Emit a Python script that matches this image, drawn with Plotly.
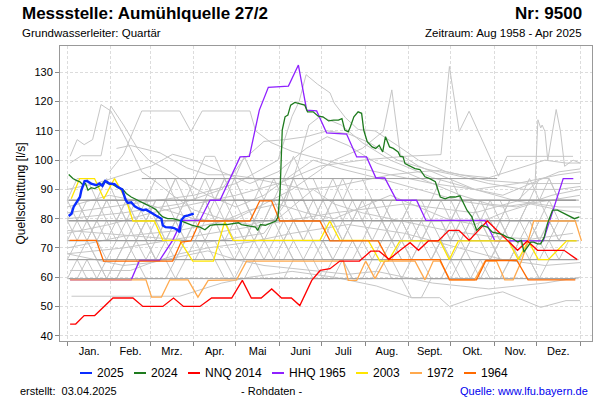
import plotly.graph_objects as go

# ---------------- axis data ----------------
MONTH_LABELS = ["Jan.", "Feb.", "Mrz.", "Apr.", "Mai", "Juni", "Juli", "Aug.", "Sept.", "Okt.", "Nov.", "Dez."]
MONTH_MID_DAYS = [15.5, 45, 74.5, 105, 135.5, 166, 196.5, 227.5, 258, 288.5, 319, 349.5]
MONTH_START_DAYS = [0, 31, 59, 90, 120, 151, 181, 212, 243, 273, 304, 334, 365]
Y_TICKS = [40, 50, 60, 70, 80, 90, 100, 110, 120, 130]

# ---------------- highlighted years ----------------
D2025_DAYS = [1, 3, 4.5, 7, 9, 10, 12.3, 14, 17, 20.6, 23, 25, 27, 30, 33.6, 36, 39, 41.5, 43, 45.5, 48, 51, 54, 56,
              58.5, 61, 63, 65, 67, 68, 70, 74, 76, 79, 80, 81, 83.4, 86, 87.5, 90]
D2025_VALUES = [80.9, 81.7, 84, 85.7, 87.4, 89.7, 92.8, 92.9, 92, 91.4, 92, 91.2, 92.9, 92, 91.8, 90.8, 90, 86.5, 85.4,
                85.6, 84.2, 83.4, 82.9, 83.1, 82.5, 81.7, 81.1, 80.6, 80, 77.7, 77.1, 77, 76.8, 76, 75.4, 79.4, 80.8,
                81.1, 81.4, 81.7]

D2024_DAYS = [1, 4, 6.4, 9, 11, 13, 14.7, 17, 19.4, 22, 24, 26.5, 29, 32.5, 36, 39.5, 42, 45.5, 49, 52.6, 56, 60, 63,
              65.6, 68, 71.5, 75, 80, 84.6, 89, 94.4, 98, 101.6, 106, 113.5, 118, 121.8, 124, 128, 131, 134, 135.5,
              137.5, 141, 145, 148.5, 150, 151.5, 153, 155, 157, 159, 162, 165, 169, 171, 175, 178.6, 182, 186, 189.5,
              193, 195.5, 197.5, 200, 201.5, 204, 207, 209.5, 211, 213.5, 217, 219.5, 222, 224.5, 226.5, 229.4, 232,
              235.5, 237, 239, 240.4, 244, 247.5, 251, 254.6, 258, 262, 265.5, 269, 272.5, 276, 279.5, 282, 284.5, 288,
              291.4, 295, 299, 302.6, 306, 309.6, 313, 317, 320.5, 323.3, 325, 327.5, 330, 332, 334.7, 337, 339.5,
              341.8, 345.4, 349, 353.6, 357, 361, 364.5]
D2024_VALUES = [95.1, 93.7, 93.1, 92.6, 91.6, 92, 89.7, 90.6, 90.3, 90.8, 91.4, 92.8, 92, 91.6, 90.6, 90, 88.6, 87.4,
                86.5, 85.7, 84.9, 84, 83.1, 81.7, 80.6, 80, 80, 79.4, 78.6, 77.7, 77.1, 76.2, 77.7, 78, 78, 78.3, 78.6,
                78, 77.7, 77.5, 77.1, 76, 78, 77.7, 78.5, 79.2, 80.6, 89.7, 110.3, 114.8, 115.4, 118.8, 119.7, 119.2,
                118.8, 116.5, 116.5, 115, 114.8, 113.4, 113.7, 113.7, 114.2, 110.3, 109.7, 111.4, 114.8, 116.5, 116,
                110.3, 106.3, 104.5, 104, 105.1, 102.8, 108, 104.5, 104, 102.8, 101.3, 101.1, 98.8, 97.9, 97.1, 96.8,
                94.3, 93.7, 92.6, 87.4, 86.8, 87.4, 87.4, 87.8, 85.1, 82.9, 80.6, 76, 77.7, 77.1, 75.4, 74.9, 74.6,
                73.7, 73.2, 72, 72.6, 68.6, 70.3, 72, 72, 71.4, 71.4, 73.7, 78.3, 82.9, 82.9, 81.7, 81.1, 80, 80.6]

NNQ2014_DAYS = [2, 6, 12, 19.5, 32.5, 46.7, 53.8, 68, 75.6, 82.7, 94.4, 102.7, 117, 124.6, 131, 138, 145.5, 152.5,
                159.5, 165.5, 174, 180, 187, 194, 208, 216, 222, 229, 237, 244, 250, 257, 264, 271.7, 278.8, 286, 299,
                306, 313, 320.5, 327.5, 334.7, 353.6, 363]
NNQ2014_VALUES = [44, 44, 46.9, 46.9, 52.9, 52.9, 50, 50, 52.9, 50, 50, 52.9, 52.9, 58.9, 52.9, 52.9, 56, 52.9, 52.9,
                  50.3, 58.9, 62.3, 62.9, 65.5, 65.5, 68.9, 68.9, 66.1, 69.2, 71.8, 69.2, 72.4, 72.4, 76, 76, 72.6, 79.2,
                  76, 72.6, 69.2, 72.4, 69.2, 69.2, 66]

HHQ1965_DAYS = [2, 45.5, 51.4, 65.6, 75, 81.7, 94.4, 101.6, 108.7, 115.8, 123, 129.6, 136.7, 143.1, 157.4, 164.5, 170.4,
                177.5, 184.6, 198.8, 206, 213, 219.7, 226, 234.4, 248.6, 255.3, 297.3, 304.4, 338.8, 353, 360.2]
HHQ1965_VALUES = [59.1, 59.1, 65.7, 65.7, 72.6, 79.4, 79.4, 86.3, 86.3, 93.7, 101.1, 101.3, 117.1, 124.9, 125.3, 132.5,
                  117.1, 116.8, 109.3, 108.9, 101.1, 101.1, 93.9, 93.9, 86.3, 86.3, 79.4, 79.4, 72.4, 72.4, 93.7, 93.7]

D2003_DAYS = [2.8, 8.8, 19.4, 26, 33.6, 42, 46.7, 62, 68, 80, 89.3, 104, 112, 118, 179.8, 186.9, 194, 214.2, 222.5,
              228.4, 236.8, 265.3, 271.9, 278.4, 314, 321, 328.2, 335.3, 342.4, 355.5, 362.6]
D2003_VALUES = [86.8, 93.7, 93.7, 86.8, 93.7, 86.3, 79.2, 79.2, 72.6, 72.6, 65.5, 65.5, 78.9, 72.6, 72.6, 79.2, 72.6,
                72.6, 65.5, 65.5, 72.4, 72.4, 66, 72.4, 72.4, 66, 72.4, 66, 66, 72.4, 72.4]

D1972_DAYS = [2, 56, 60, 67, 73, 86, 93, 100.3, 120.5, 127.6, 196.4, 200, 206, 212.4, 219, 226, 247.5, 254.6, 260.5,
              265.3, 272.4, 290, 297.3, 305.5, 311.4, 317.4, 323.3, 328, 332, 361.6, 366]
D1972_VALUES = [59.1, 59.1, 53.2, 53.2, 59.1, 59.1, 53.2, 58.9, 59.1, 65.5, 65.5, 58.9, 58.9, 65.5, 59.5, 65.5, 65.5,
                59.1, 65.5, 65.5, 59.1, 59.1, 65.5, 65.5, 59.1, 59.1, 65.5, 72.4, 79.2, 79.2, 72.4]

D1964_DAYS = [1.7, 20.6, 25.8, 75, 81, 88, 94.4, 130, 137, 145.4, 151.3, 179.8, 187, 221.3, 228.4, 265.3, 272, 291.3,
              298, 320, 328, 361.6]
D1964_VALUES = [72.6, 72.6, 65.5, 65.5, 72, 72.4, 79.2, 79.2, 86.1, 86.1, 79.2, 79.2, 72.4, 72.4, 66, 66, 59.1, 59.1,
                65.7, 65.7, 59.1, 59.1]

# ---------------- other years (grey), weekly readings ----------------
WEEK_DAYS = list(range(0, 365, 7))
GRAY_W1 = [72.5,72.5,79.3,72.5,72.5,72.5,79.3,79.3,72.5,66,66,72.5,72.5,79.3,86.3,79.3,79.3,72.5,72.5,72.5,79.3,86.3,86.3,79.3,72.5,72.5,72.5,66,66,72.5,72.5,72.5,79.3,72.5,72.5,66,66,66,72.5,72.5,79.3,72.5,72.5,72.5,66,66,72.5,72.5,79.3,79.3,72.5,72.5,72.5]
GRAY_W2 = [79.3,86.3,79.3,79.3,72.5,79.3,86.3,86.3,79.3,79.3,86.3,93.7,86.3,79.3,79.3,86.3,93.7,86.3,86.3,79.3,79.3,79.3,86.3,93.7,93.7,86.3,79.3,79.3,72.5,79.3,79.3,86.3,79.3,79.3,72.5,72.5,79.3,79.3,86.3,79.3,72.5,72.5,79.3,79.3,72.5,72.5,79.3,86.3,86.3,79.3,79.3,79.3,79.3]
GRAY_W3 = [66,66,72.5,66,59.5,66,66,72.5,72.5,66,66,59.5,66,72.5,72.5,66,66,66,72.5,79.3,72.5,66,66,72.5,66,66,59.5,59.5,66,66,72.5,66,66,59.5,59.5,66,66,66,72.5,66,59.5,59.5,66,66,72.5,72.5,66,66,59.5,66,66,66,66]
GRAY_W4 = [86.3,86.3,79.3,86.3,93.7,86.3,86.3,79.3,79.3,86.3,86.3,93.7,93.7,86.3,86.3,79.3,86.3,93.7,101.3,93.7,86.3,86.3,86.3,93.7,86.3,79.3,79.3,86.3,86.3,79.3,79.3,72.5,72.5,79.3,79.3,72.5,72.5,66,72.5,72.5,79.3,79.3,72.5,72.5,79.3,86.3,86.3,93.7,86.3,86.3,79.3,79.3,79.3]
GRAY_W5 = [59.5,59.5,66,66,59.5,59.5,66,72.5,66,66,72.5,79.3,72.5,72.5,79.3,79.3,72.5,66,66,72.5,72.5,79.3,72.5,66,66,59.5,59.5,66,66,59.5,59.5,59.5,66,66,59.5,53,53,59.5,59.5,66,66,59.5,59.5,66,72.5,72.5,66,66,72.5,72.5,66,66,66]
GRAY_W6 = [72.5,79.3,79.3,72.5,66,66,72.5,79.3,86.3,79.3,72.5,72.5,79.3,79.3,86.3,86.3,93.7,86.3,79.3,79.3,86.3,86.3,79.3,72.5,72.5,79.3,86.3,93.7,86.3,86.3,79.3,72.5,72.5,72.5,79.3,79.3,72.5,72.5,66,66,72.5,79.3,79.3,72.5,66,66,72.5,79.3,72.5,72.5,72.5,79.3,79.3]
GRAY_W7 = [79.3,72.5,72.5,66,66,72.5,72.5,66,66,72.5,79.3,79.3,86.3,79.3,72.5,72.5,72.5,79.3,79.3,72.5,66,66,72.5,79.3,79.3,86.3,86.3,79.3,79.3,72.5,66,66,72.5,72.5,66,66,72.5,79.3,79.3,72.5,72.5,66,66,59.5,59.5,66,66,72.5,72.5,66,66,72.5,72.5]
GRAY_W8 = [86.3,79.3,79.3,79.3,86.3,86.3,79.3,72.5,72.5,79.3,86.3,86.3,79.3,79.3,86.3,93.7,93.7,93.7,86.3,79.3,79.3,86.3,93.7,101.3,93.7,93.7,86.3,86.3,79.3,86.3,86.3,79.3,79.3,86.3,86.3,79.3,79.3,79.3,72.5,79.3,86.3,86.3,79.3,79.3,72.5,79.3,79.3,86.3,93.7,93.7,86.3,86.3,86.3]
GRAY_W9 = [66,72.5,72.5,79.3,79.3,72.5,72.5,72.5,79.3,79.3,72.5,66,66,66,72.5,72.5,66,59.5,59.5,66,72.5,72.5,72.5,66,66,72.5,72.5,79.3,72.5,72.5,66,66,66,72.5,72.5,79.3,79.3,72.5,72.5,66,66,72.5,72.5,72.5,79.3,72.5,72.5,66,66,72.5,79.3,79.3,79.3]
GRAY_W10 = [79.3,79.3,86.3,86.3,79.3,79.3,72.5,72.5,79.3,72.5,72.5,79.3,86.3,86.3,93.7,86.3,79.3,79.3,72.5,72.5,79.3,79.3,86.3,86.3,79.3,79.3,86.3,86.3,93.7,86.3,86.3,86.3,79.3,72.5,72.5,72.5,79.3,86.3,86.3,86.3,79.3,79.3,86.3,86.3,79.3,72.5,72.5,72.5,79.3,86.3,86.3,86.3,86.3]
GRAY_W11 = [59.5,66,66,59.5,59.5,59.5,66,66,59.5,59.5,59.5,66,72.5,72.5,66,66,59.5,59.5,66,66,59.5,59.5,59.5,66,66,66,72.5,66,66,59.5,59.5,66,66,66,72.5,66,66,59.5,59.5,59.5,66,66,59.5,59.5,59.5,66,66,66,59.5,59.5,59.5,59.5,59.5]
GRAY_W12 = [72.5,72.5,72.5,79.3,86.3,86.3,79.3,79.3,72.5,72.5,79.3,79.3,72.5,72.5,72.5,79.3,79.3,86.3,86.3,79.3,72.5,72.5,79.3,79.3,79.3,72.5,72.5,72.5,79.3,79.3,86.3,86.3,79.3,79.3,79.3,72.5,72.5,79.3,79.3,79.3,86.3,86.3,79.3,72.5,72.5,79.3,79.3,79.3,72.5,72.5,72.5,72.5,72.5]
GRAY_W13 = [86.3,93.7,93.7,86.3,86.3,79.3,79.3,86.3,86.3,93.7,93.7,86.3,86.3,93.7,101.3,101.3,93.7,93.7,86.3,86.3,93.7,93.7,86.3,86.3,86.3,79.3,79.3,86.3,86.3,93.7,93.7,86.3,86.3,79.3,79.3,86.3,86.3,86.3,93.7,93.7,86.3,86.3,86.3,79.3,79.3,86.3,86.3,86.3,86.3,93.7,86.3,86.3,86.3]
GRAY_W14 = [66,66,59.5,59.5,66,66,72.5,72.5,72.5,66,66,66,72.5,79.3,79.3,79.3,72.5,72.5,66,66,66,72.5,72.5,79.3,72.5,72.5,66,66,72.5,72.5,72.5,79.3,79.3,72.5,66,66,72.5,72.5,72.5,66,66,72.5,72.5,66,66,66,72.5,72.5,72.5,79.3,72.5,72.5,72.5]
GRAY_W15 = [79.3,79.3,72.5,72.5,79.3,79.3,86.3,79.3,79.3,86.3,86.3,79.3,79.3,79.3,86.3,86.3,86.3,79.3,72.5,79.3,86.3,93.7,93.7,86.3,86.3,79.3,79.3,72.5,72.5,79.3,86.3,86.3,86.3,79.3,79.3,86.3,86.3,79.3,79.3,72.5,72.5,79.3,79.3,86.3,86.3,79.3,79.3,72.5,72.5,79.3,79.3,79.3,79.3]
GRAY_WEEKLY = [GRAY_W1, GRAY_W2, GRAY_W3, GRAY_W4, GRAY_W5, GRAY_W6, GRAY_W7, GRAY_W8, GRAY_W9, GRAY_W10,
               GRAY_W11, GRAY_W12, GRAY_W13, GRAY_W14, GRAY_W15]

# years with constant readings all year (overlapping, appear darker)
GRAY_FLAT_DAYS = [1, 362]
GRAY_FLAT_LEVELS = [86.3, 86.3, 79.3, 79.3, 72.5, 72.5, 66, 59.5]
GRAY_FLAT93_DAYS = [53, 306]
GRAY_FLAT93_VALUES = [93.7, 93.7]

# continuously recorded grey years
GRAY_S1_DAYS = [2, 7, 12, 18, 24, 31, 42, 53, 62, 75, 90, 110, 130, 150, 165, 175, 190, 210, 240, 270, 300, 330, 360]
GRAY_S1_VALUES = [101.3, 107, 105.3, 107, 119, 116.8, 107, 96, 93, 88, 83, 80, 78, 80, 86, 90, 85, 82, 79, 76, 74, 73, 75]
GRAY_S2_DAYS = [2, 10, 24, 31, 40, 50, 58, 70, 85, 100, 120, 140, 160, 175, 195, 220, 250, 280, 310, 340, 365]
GRAY_S2_VALUES = [99, 101.5, 101.5, 118.5, 112, 104, 100, 97, 92, 88, 84, 88, 95, 100, 97, 94, 90, 86, 84, 86, 88]
GRAY_S3_DAYS = [30, 40, 47, 53, 80, 88, 96, 130, 134, 145, 160, 175, 200, 230, 260, 290, 320, 350, 365]
GRAY_S3_VALUES = [96, 102, 110, 116.8, 116.8, 109.8, 116.8, 116.8, 110, 106, 103, 101, 98, 95, 92, 90, 92, 95, 96]
GRAY_S4_DAYS = [35, 45, 66, 85, 100, 115, 130, 150, 170, 190, 210, 230, 250, 265, 280, 300, 320, 340, 355, 365]
GRAY_S4_VALUES = [104, 105, 102.5, 97.4, 95, 95, 94, 92, 90, 91, 93, 95, 96, 96.5, 95, 94, 97, 100, 99, 99]
GRAY_S5_DAYS = [0, 30, 60, 90, 120, 150, 160, 165, 170, 178, 187, 190, 198, 207, 219, 235, 250, 270, 300, 330, 365]
GRAY_S5_VALUES = [82, 84, 86, 88, 92, 100, 115, 120, 129.2, 126, 123, 119.5, 114.5, 110.5, 110, 105, 100, 96, 93, 92, 92]
GRAY_S6_DAYS = [0, 30, 60, 90, 120, 150, 180, 210, 240, 266, 272, 279, 286, 307, 313, 360]
GRAY_S6_VALUES = [75, 78, 82, 85, 88, 92, 98, 100, 101.3, 101.9, 132, 109.8, 116.7, 94.5, 101.3, 101.3]
GRAY_S7_DAYS = [0, 40, 80, 120, 160, 190, 210, 225, 231, 237, 250, 270, 290, 310, 330, 350, 365]
GRAY_S7_VALUES = [70, 74, 76, 80, 90, 100, 104, 109.9, 124, 101.9, 98, 94, 90, 88, 92, 96, 97]
GRAY_S8_DAYS = [0, 40, 90, 140, 190, 240, 290, 320, 333, 335, 337, 338, 340, 342, 348, 351, 354, 360, 365]
GRAY_S8_VALUES = [68, 70, 74, 78, 82, 85, 82, 86, 92, 113.8, 111, 112, 109.8, 100, 117.3, 110, 97.9, 100, 99]
GRAY_S9_DAYS = [3, 40, 80, 90, 110, 130, 160, 190, 220, 245, 265, 272, 290, 310, 337, 355, 365]
GRAY_S9_VALUES = [53.5, 53.5, 53.5, 55, 58, 60, 62, 60, 57, 53, 53, 50, 53, 55, 49.7, 52, 52]
GRAY_S10_DAYS = [2, 45, 60, 80, 100, 130, 160, 200, 240, 280, 310, 340, 365]
GRAY_S10_VALUES = [62.3, 62.3, 65, 68, 70, 72, 75, 78, 75, 70, 66, 64, 65]
GRAY_S11_DAYS = [0, 50, 100, 140, 155, 165, 172, 180, 195, 210, 230, 260, 290, 320, 350, 365]
GRAY_S11_VALUES = [76, 74, 72, 75, 85, 100, 112, 115, 112, 106, 100, 94, 90, 86, 84, 84]
GRAY_S12_DAYS = [0, 20, 40, 60, 75, 90, 110, 130, 150, 170, 185, 200, 220, 240, 260, 280, 300, 320, 345, 365]
GRAY_S12_VALUES = [90, 92, 95, 98, 102, 100, 96, 92, 96, 104, 108, 105, 99, 96, 92, 88, 85, 84, 88, 90]
GRAY_S13_DAYS = [0, 40, 80, 110, 125, 140, 155, 170, 185, 200, 215, 235, 255, 275, 300, 325, 350, 365]
GRAY_S13_VALUES = [80, 82, 85, 90, 100, 106.4, 107, 108, 110, 109, 106, 100, 97, 95, 92, 90, 90, 91]
GRAY_S14_DAYS = [0, 15, 30, 50, 70, 90, 110, 130, 150, 170, 190, 210, 230, 250, 270, 290, 310, 330, 350, 365]
GRAY_S14_VALUES = [84, 86, 88, 86, 83, 80, 79, 83, 85, 82, 80, 84, 88, 84, 80, 78, 82, 85, 83, 82]
GRAY_S15_DAYS = [0, 20, 40, 60, 80, 100, 120, 140, 160, 180, 200, 220, 240, 260, 280, 300, 320, 340, 365]
GRAY_S15_VALUES = [68, 66, 64, 65, 67, 69, 66, 64, 63, 62, 61, 62, 60, 58, 57, 56, 57, 58, 60]
GRAY_SMOOTH = [(GRAY_S1_DAYS, GRAY_S1_VALUES), (GRAY_S2_DAYS, GRAY_S2_VALUES), (GRAY_S3_DAYS, GRAY_S3_VALUES),
               (GRAY_S4_DAYS, GRAY_S4_VALUES), (GRAY_S5_DAYS, GRAY_S5_VALUES), (GRAY_S6_DAYS, GRAY_S6_VALUES),
               (GRAY_S7_DAYS, GRAY_S7_VALUES), (GRAY_S8_DAYS, GRAY_S8_VALUES), (GRAY_S9_DAYS, GRAY_S9_VALUES),
               (GRAY_S10_DAYS, GRAY_S10_VALUES), (GRAY_S11_DAYS, GRAY_S11_VALUES), (GRAY_S12_DAYS, GRAY_S12_VALUES),
               (GRAY_S13_DAYS, GRAY_S13_VALUES), (GRAY_S14_DAYS, GRAY_S14_VALUES), (GRAY_S15_DAYS, GRAY_S15_VALUES)]

# legend / highlighted series (drawing order bottom -> top)
SERIES = [
    ("HHQ 1965", HHQ1965_DAYS, HHQ1965_VALUES, "#8f20ff", 1.3),
    ("2003", D2003_DAYS, D2003_VALUES, "#ffe500", 1.3),
    ("1972", D1972_DAYS, D1972_VALUES, "#ffa94d", 1.3),
    ("1964", D1964_DAYS, D1964_VALUES, "#ff6a00", 1.3),
    ("NNQ 2014", NNQ2014_DAYS, NNQ2014_VALUES, "#ff0000", 1.3),
    ("2024", D2024_DAYS, D2024_VALUES, "#1e7b1e", 1.3),
    ("2025", D2025_DAYS, D2025_VALUES, "#0a2cff", 2.4),
]
LEGEND_ORDER = ["2025", "2024", "NNQ 2014", "HHQ 1965", "2003", "1972", "1964"]
LEGEND_X_PX = [80, 134, 188, 272, 356, 410, 464]

FONT = "Liberation Sans, Arial, sans-serif"
GRAY = "#c6c6c6"

fig = go.Figure()

for days, vals in GRAY_SMOOTH:
    fig.add_trace(go.Scatter(x=days, y=vals, mode="lines", line=dict(color=GRAY, width=1),
                             showlegend=False, hoverinfo="skip"))
for vals in GRAY_WEEKLY:
    fig.add_trace(go.Scatter(x=WEEK_DAYS[:len(vals)], y=vals, mode="lines", line=dict(color=GRAY, width=1),
                             showlegend=False, hoverinfo="skip"))
for lvl in GRAY_FLAT_LEVELS:
    fig.add_trace(go.Scatter(x=GRAY_FLAT_DAYS, y=[lvl, lvl], mode="lines", line=dict(color="#9a9a9a", width=1),
                             showlegend=False, hoverinfo="skip"))
fig.add_trace(go.Scatter(x=GRAY_FLAT93_DAYS, y=GRAY_FLAT93_VALUES, mode="lines",
                         line=dict(color="#a0a0a0", width=1), showlegend=False, hoverinfo="skip"))

colors = {}
for name, days, vals, col, w in SERIES:
    colors[name] = col
    fig.add_trace(go.Scatter(x=days, y=vals, mode="lines", name=name, line=dict(color=col, width=w),
                             showlegend=False))

# ---- layout geometry (px) ----
W, H = 600, 400
ML, MR, MT, MB = 60, 8, 46, 59
PW = W - ML - MR
PH = H - MT - MB


def px_x(px):
    return (px - ML) / PW


def px_y(py):
    return (H - MB - py) / PH


annotations = [
    dict(text="<b>Messstelle: Aumühlquelle 27/2</b>", x=px_x(20), y=px_y(14), xanchor="left", yanchor="middle",
         font=dict(size=17, color="#000")),
    dict(text="<b>Nr: 9500</b>", x=px_x(584), y=px_y(14), xanchor="right", yanchor="middle",
         font=dict(size=17, color="#000")),
    dict(text="Grundwasserleiter: Quartär", x=px_x(20), y=px_y(33), xanchor="left", yanchor="middle",
         font=dict(size=11.5, color="#000")),
    dict(text="Zeitraum: Aug 1958 - Apr 2025", x=px_x(584), y=px_y(33), xanchor="right", yanchor="middle",
         font=dict(size=11.5, color="#000")),
    dict(text="erstellt:\u00a0\u00a003.04.2025", x=px_x(18), y=px_y(391), xanchor="left", yanchor="middle",
         font=dict(size=11, color="#000")),
    dict(text="- Rohdaten -", x=px_x(271), y=px_y(391), xanchor="center", yanchor="middle",
         font=dict(size=11, color="#000")),
    dict(text="Quelle: www.lfu.bayern.de", x=px_x(590), y=px_y(391), xanchor="right", yanchor="middle",
         font=dict(size=11, color="#0000ee")),
]
shapes = []
for name, lx in zip(LEGEND_ORDER, LEGEND_X_PX):
    shapes.append(dict(type="line", xref="paper", yref="paper", x0=px_x(lx), x1=px_x(lx + 12),
                       y0=px_y(373), y1=px_y(373), line=dict(color=colors[name], width=2)))
    annotations.append(dict(text=name, x=px_x(lx + 15), y=px_y(373), xanchor="left", yanchor="middle",
                            font=dict(size=12, color="#000")))
for a in annotations:
    a.update(xref="paper", yref="paper", showarrow=False)

fig.update_layout(
    width=W, height=H,
    margin=dict(l=ML, r=MR, t=MT, b=MB),
    paper_bgcolor="white", plot_bgcolor="white",
    font=dict(family=FONT, size=11, color="#000"),
    showlegend=False,
    annotations=annotations,
    shapes=shapes,
    xaxis=dict(
        range=[-5.2, 373.5], tickmode="array", tickvals=MONTH_MID_DAYS, ticktext=MONTH_LABELS,
        ticks="", showgrid=False, zeroline=False, showline=True, linecolor="#999", mirror=True,
        tickfont=dict(size=11, color="#000"),
        minor=dict(tickmode="array", tickvals=MONTH_START_DAYS, ticks="outside", ticklen=4, tickcolor="#888",
                   showgrid=True, gridcolor="#dcdcdc", griddash="3px,2px", gridwidth=1),
    ),
    yaxis=dict(
        range=[38.2, 139], tickmode="array", tickvals=Y_TICKS, ticks="outside", ticklen=4, tickcolor="#888",
        showgrid=True, gridcolor="#dcdcdc", griddash="3px,2px", zeroline=False, showline=True,
        linecolor="#999", mirror=True, tickfont=dict(size=11, color="#000"),
        title=dict(text="Quellschüttung [l/s]", font=dict(size=12, color="#000"), standoff=6),
    ),
)

fig.write_html("out.html", config={"displayModeBar": False},
               post_script="document.body.style.margin='0';document.body.style.padding='0';")
